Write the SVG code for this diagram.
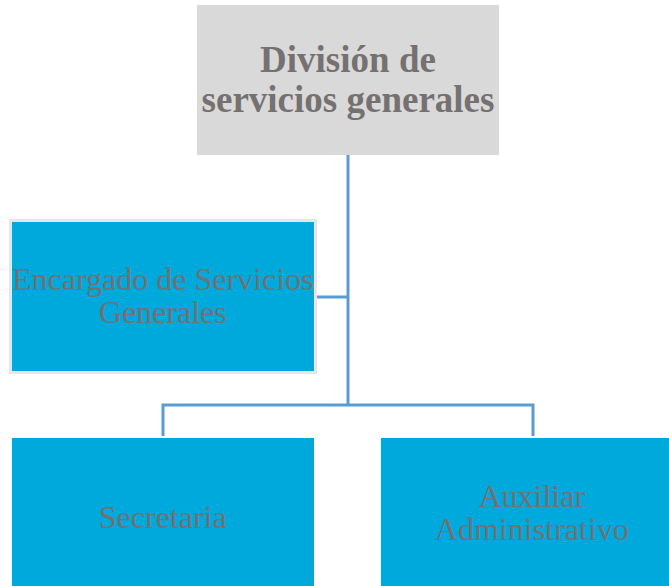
<svg xmlns="http://www.w3.org/2000/svg" width="669" height="586" viewBox="0 0 669 586">
<style>
.t{font-family:"Liberation Serif","Times New Roman",serif;fill:#767171;text-anchor:middle}
.title{font-weight:bold;font-size:37px}
.lab{font-size:32px}
.blue{fill:#00a9dc}
.conn{stroke:#5b9bd5;stroke-width:3;fill:none}
</style>
<rect width="669" height="586" fill="#ffffff"/>
<g id="connectors">
<path class="conn" d="M348 155 V405"/>
<path class="conn" d="M316 297 H348"/>
<path class="conn" d="M163 436 V405 H533 V436"/>
</g>
<g id="division">
<rect x="197" y="5" width="302" height="150" fill="#d9d9d9"/>
<text class="t title" x="348" y="72">División de</text>
<text class="t title" x="348" y="112">servicios generales</text>
</g>
<g id="encargado">
<rect x="10.5" y="220.5" width="305" height="152" class="blue" stroke="#e6e6e6" stroke-width="3"/>
<text class="t lab" x="163" y="290">Encargado de Servicios</text>
<text class="t lab" x="163" y="323">Generales</text>
</g>
<g id="secretaria">
<rect x="12" y="438" width="302" height="150" class="blue"/>
<text class="t lab" x="163" y="528">Secretaria</text>
</g>
<g id="auxiliar">
<rect x="381" y="438" width="290" height="150" class="blue"/>
<text class="t lab" x="532" y="507">Auxiliar</text>
<text class="t lab" x="532" y="540">Administrativo</text>
</g>
</svg>
